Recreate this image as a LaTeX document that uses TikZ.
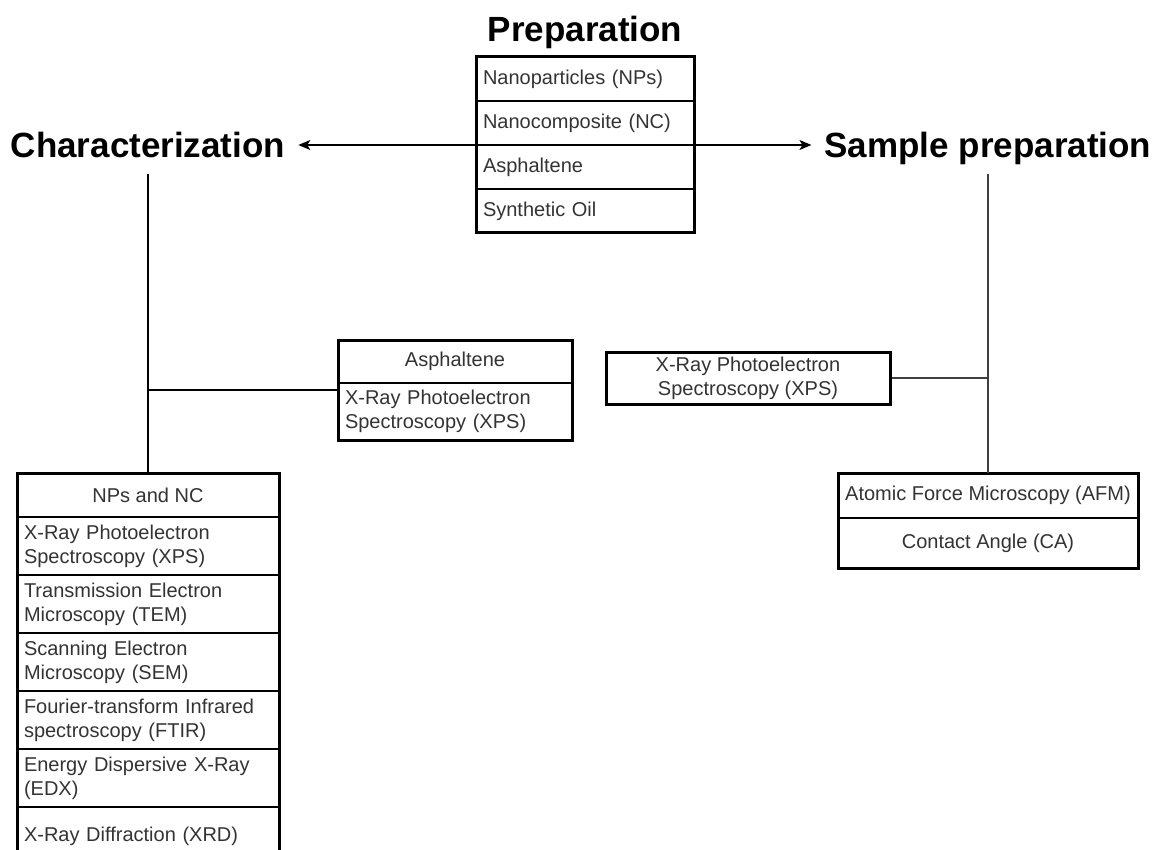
\documentclass[tikz,border=0pt]{standalone}
\usepackage{fontspec}
\setmainfont{Liberation Sans}
\usetikzlibrary{arrows.meta,fit}

\tikzset{
  head/.style={font=\fontsize{35}{40}\selectfont\bfseries, text height=26pt,
    text depth=0pt, inner xsep=13pt, inner ysep=16pt},
  cell/.style={draw, line width=1.8pt, anchor=north west, outer sep=0pt,
    inner xsep=7pt, inner ysep=0pt, text=black!80,
    font=\fontsize{20}{24}\selectfont, align=left},
  cellc/.style={cell, align=center, inner xsep=4pt},
  frame/.style={draw, line width=3pt, inner sep=0pt},
  link/.style={line width=1.4pt},
  linkr/.style={line width=1.3pt, black!75},
  arr/.style={link, -{Stealth[length=12pt,width=10pt,inset=3pt]}},
}

\begin{document}
\begin{tikzpicture}[x=1pt, y=-1pt]
  \useasboundingbox (0,0) rectangle (1153,850);
  \clip (0,0) rectangle (1153,850);

  % headings
  \node[head] (prepttl) at (585,29) {Preparation};
  \node[head] (char) at (148,145) {Characterization};
  \node[head] (samp) at (988,145) {Sample preparation};

  % preparation box
  \node[cell, text width=204pt, minimum height=44pt] (prep1) at (476,57)  {Nanoparticles (NPs)};
  \node[cell, text width=204pt, minimum height=44pt] (prep2) at (476,101) {Nanocomposite (NC)};
  \node[cell, text width=204pt, minimum height=44pt] (prep3) at (476,145) {Asphaltene};
  \node[cell, text width=204pt, minimum height=44pt] (prep4) at (476,189) {Synthetic Oil};
  \node[frame, fit=(prep1)(prep4)] (prep) {};

  % asphaltene box
  \node[cellc, minimum width=234pt, minimum height=43pt] (asph1) at (338,340) {Asphaltene};
  \node[cell, text width=220pt, minimum height=57pt] (asph2) at (338,383) {X-Ray Photoelectron\\Spectroscopy (XPS)};
  \node[frame, fit=(asph1)(asph2)] (asph) {};

  % NPs and NC box
  \node[cellc, minimum width=262pt, minimum height=44pt] (np0) at (17,473) {NPs and NC};
  \foreach \i/\txt in {1/{X-Ray Photoelectron\\Spectroscopy (XPS)},
                       2/{Transmission Electron\\Microscopy (TEM)},
                       3/{Scanning Electron\\Microscopy (SEM)},
                       4/{Fourier-transform Infrared\\spectroscopy (FTIR)},
                       5/{Energy Dispersive X-Ray\\(EDX)},
                       6/{X-Ray Diffraction (XRD)}}
    \node[cell, text width=248pt, minimum height=58pt] (np\i) at (17,{517+58*(\i-1)}) {\txt};
  \node[frame, fit=(np0)(np6)] (nps) {};

  % sample preparation side
  \node[cellc, minimum width=284pt, minimum height=52pt] (xpsr) at (606,352) {X-Ray Photoelectron\\Spectroscopy (XPS)};
  \node[frame, fit=(xpsr)] (xpsbox) {};
  \node[cellc, minimum width=300pt, minimum height=45pt] (afm) at (838,473) {Atomic Force Microscopy (AFM)};
  \node[cellc, minimum width=300pt, minimum height=50pt] (ca) at (838,518) {Contact Angle (CA)};
  \node[frame, fit=(afm)(ca)] (afmbox) {};

  % connectors
  \draw[arr] (prep2.south west) -- (char);
  \draw[arr] (prep2.south east) -- (samp);
  \draw[link] (char.south) -- (np0.north);
  \draw[link] (asph.west -| char.south) -- (asph.west);
  \draw[linkr] (samp.south) -- (afm.north);
  \draw[linkr] (xpsbox.east) -- (xpsbox.east -| samp.south);
\end{tikzpicture}
\end{document}
